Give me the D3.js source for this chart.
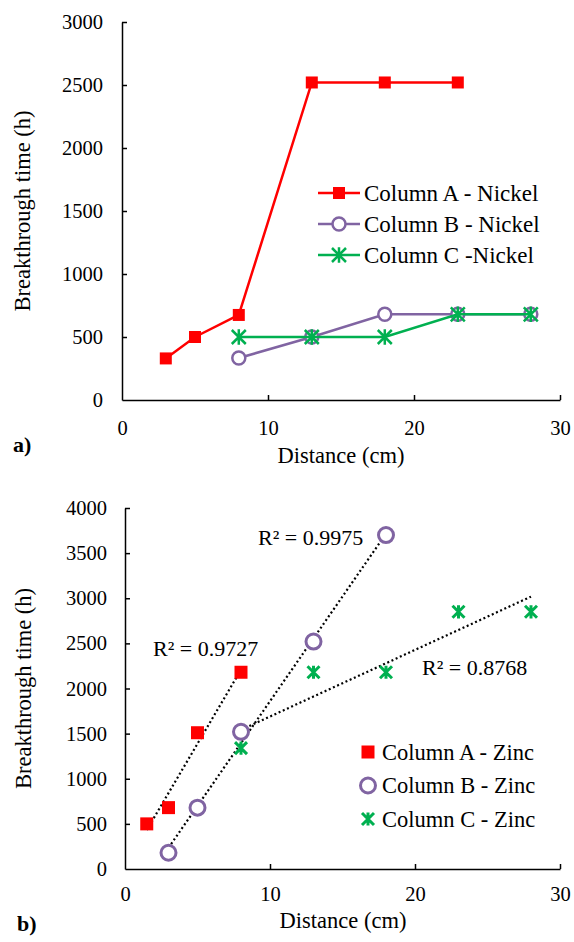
<!DOCTYPE html>
<html>
<head>
<meta charset="utf-8">
<script src="https://cdn.jsdelivr.net/npm/d3@7"></script>
<style>
  body { margin: 0; background: #fff; }
  svg { display: block; }
  svg text { font-family: "Liberation Serif", "Times New Roman", serif; fill: #000; }
</style>
</head>
<body>
<script>
// Data - panel a (nickel)
var nickelX = {
  A: [3, 5, 8, 13, 18, 23],
  B: [8, 13, 18, 23, 28],
  C: [8, 13, 18, 23, 28]
};
var nickelY = {
  A: [330, 500, 675, 2520, 2520, 2520],
  B: [333, 500, 680, 680, 680],
  C: [500, 500, 500, 680, 680]
};
var nickelNames = ["Column A - Nickel", "Column B - Nickel", "Column C -Nickel"];

// Data - panel b (zinc)
var zincX = {
  A: [1.5, 3, 5, 8],
  B: [3, 5, 8, 13, 18],
  C: [8, 13, 18, 23, 28]
};
var zincY = {
  A: [500, 680, 1510, 2180],
  B: [180, 680, 1520, 2520, 3700],
  C: [1340, 2180, 2180, 2850, 2850]
};
var zincNames = ["Column A - Zinc", "Column B - Zinc", "Column C - Zinc"];
var rLabels = ["R² = 0.9727", "R² = 0.9975", "R² = 0.8768"];

var xTicks = [0, 10, 20, 30];
var yTicksA = [0, 500, 1000, 1500, 2000, 2500, 3000];
var yTicksB = [0, 500, 1000, 1500, 2000, 2500, 3000, 3500, 4000];

var keys = ["A", "B", "C"];
var colors = { A: "#ff0000", B: "#8064a2", C: "#00b050" };

var svg = d3.select("body").append("svg")
  .attr("width", 574)
  .attr("height", 942);

// marker drawing
function drawMarker(g, key, x, y, big) {
  if (key === "A") {
    var s = big ? 12 : 13;
    g.append("rect")
      .attr("x", x - s / 2).attr("y", y - s / 2)
      .attr("width", s).attr("height", s)
      .attr("fill", colors.A);
  } else if (key === "B") {
    g.append("circle")
      .attr("cx", x).attr("cy", y)
      .attr("r", big ? 6.5 : 7.5)
      .attr("fill", "#fff")
      .attr("stroke", colors.B)
      .attr("stroke-width", big ? 2.5 : 3);
  } else {
    var r = big ? 7 : 6;
    var d = "M" + (x - r) + "," + (y - r) + "L" + (x + r) + "," + (y + r) +
      "M" + (x - r) + "," + (y + r) + "L" + (x + r) + "," + (y - r) +
      "M" + x + "," + (y - r * 1.1) + "L" + x + "," + (y + r * 1.1);
    g.append("path")
      .attr("d", d)
      .attr("stroke", colors.C)
      .attr("stroke-width", big ? 2.5 : 3)
      .attr("fill", "none");
  }
}

function drawAxes(x, y, yTicks, yTitleX, xLabelPad, yLabelPad, xTitleY, xTitleX, tag, tagX, tagY) {
  var gx = svg.append("g")
    .attr("transform", "translate(0," + y.range()[0] + ")")
    .call(d3.axisBottom(x).tickValues(xTicks).tickFormat(d3.format("d"))
      .tickSizeInner(-5).tickSizeOuter(0).tickPadding(xLabelPad));
  var gy = svg.append("g")
    .attr("transform", "translate(" + x.range()[0] + ",0)")
    .call(d3.axisLeft(y).tickValues(yTicks).tickFormat(d3.format("d"))
      .tickSizeInner(-5).tickSizeOuter(0).tickPadding(yLabelPad));
  [gx, gy].forEach(function (g) {
    g.attr("font-family", null).attr("font-size", 20.5);
    g.selectAll("path, line").attr("stroke", "#000").attr("stroke-width", 1.5);
    g.selectAll("text").attr("fill", "#000");
  });
  gx.selectAll(".tick").filter(function (d) { return d === 0; }).select("line").remove();
  gy.selectAll(".tick").filter(function (d) { return d === 0; }).select("line").remove();

  svg.append("text")
    .attr("transform", "translate(" + yTitleX + "," + ((y.range()[0] + y.range()[1]) / 2) + ") rotate(-90)")
    .attr("text-anchor", "middle")
    .attr("dy", "0.35em")
    .attr("font-size", 22.5)
    .text("Breakthrough time (h)");
  svg.append("text")
    .attr("x", xTitleX).attr("y", xTitleY)
    .attr("text-anchor", "middle")
    .attr("dy", "0.35em")
    .attr("font-size", 22.5)
    .text("Distance (cm)");
  svg.append("text")
    .attr("x", tagX).attr("y", tagY)
    .attr("dy", "0.35em")
    .attr("font-size", 22)
    .attr("font-weight", "bold")
    .text(tag);
}

// ---------- Panel a ----------
var xa = d3.scaleLinear().domain([0, 30]).range([122, 560]);
var ya = d3.scaleLinear().domain([0, 3000]).range([400, 22]);
drawAxes(xa, ya, yTicksA, 22, 20, 19, 455, 341, "a)", 13, 444);

var line = d3.line();
var ga = svg.append("g");
keys.forEach(function (k) {
  var pts = nickelX[k].map(function (v, i) { return [xa(v), ya(nickelY[k][i])]; });
  ga.append("path")
    .attr("d", line(pts))
    .attr("fill", "none")
    .attr("stroke", colors[k])
    .attr("stroke-width", 2.5);
  pts.forEach(function (p) { drawMarker(ga, k, p[0], p[1], true); });
});

// legend a
var legA = svg.append("g");
keys.forEach(function (k, i) {
  var yy = 193 + i * 31;
  legA.append("line")
    .attr("x1", 318).attr("x2", 360).attr("y1", yy).attr("y2", yy)
    .attr("stroke", colors[k]).attr("stroke-width", 2.5);
  drawMarker(legA, k, 339, yy, true);
  legA.append("text")
    .attr("x", 364).attr("y", yy).attr("dy", "0.35em")
    .attr("font-size", 23)
    .text(nickelNames[i]);
});

// ---------- Panel b ----------
var xb = d3.scaleLinear().domain([0, 30]).range([125, 560]);
var yb = d3.scaleLinear().domain([0, 4000]).range([869, 508]);
drawAxes(xb, yb, yTicksB, 23, 17, 18, 920, 343, "b)", 17, 923);

var gb = svg.append("g");
// linear trendlines (least squares over each series)
keys.forEach(function (k) {
  var xs = zincX[k], ys = zincY[k];
  var mx = d3.mean(xs), my = d3.mean(ys);
  var sxy = d3.sum(xs, function (v, i) { return (v - mx) * (ys[i] - my); });
  var sxx = d3.sum(xs, function (v) { return (v - mx) * (v - mx); });
  var b = sxy / sxx, a = my - b * mx;
  var x0 = d3.min(xs), x1 = d3.max(xs);
  gb.append("line")
    .attr("x1", xb(x0)).attr("y1", yb(a + b * x0))
    .attr("x2", xb(x1)).attr("y2", yb(a + b * x1))
    .attr("stroke", "#000")
    .attr("stroke-width", 2.2)
    .attr("stroke-dasharray", "2,2.6");
});
keys.forEach(function (k) {
  zincX[k].forEach(function (v, i) {
    drawMarker(gb, k, xb(v), yb(zincY[k][i]), false);
  });
});

// R² labels
var rPos = [[153, 648], [258, 537], [422, 667]];
rLabels.forEach(function (t, i) {
  svg.append("text")
    .attr("x", rPos[i][0]).attr("y", rPos[i][1]).attr("dy", "0.35em")
    .attr("font-size", 22)
    .text(t);
});

// legend b
var legB = svg.append("g");
keys.forEach(function (k, i) {
  var yy = 752 + i * 33.5;
  drawMarker(legB, k, 368, yy, false);
  legB.append("text")
    .attr("x", 382).attr("y", yy).attr("dy", "0.35em")
    .attr("font-size", 22.5)
    .text(zincNames[i]);
});
</script>
</body>
</html>
